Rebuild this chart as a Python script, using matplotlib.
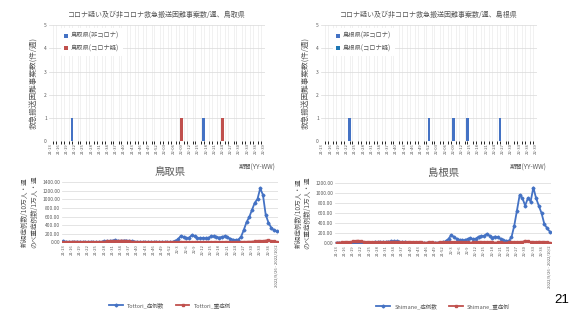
import matplotlib.pyplot as plt
import numpy as np

plt.rcParams['font.family'] = ['Noto Sans CJK JP', 'DejaVu Sans']

# weeks 2021-13 .. 2022-39
weeks = [f'21-{w:02d}' for w in range(13, 53)] + [f'22-{w:02d}' for w in range(1, 40)]
line_labels = [f'21-{w}' for w in range(13, 53)] + [f'22-{w}' for w in range(1, 39)] + ['2022/9/26 - 2022/10/2']

# bar data (weeks with cases)
tottori_non_weeks = ['21-21', '22-17']
tottori_non_counts = [1, 1]
tottori_cov_weeks = ['22-09', '22-24']
tottori_cov_counts = [1, 1]
shimane_non_weeks = ['21-23', '21-52', '22-09', '22-14', '22-26']
shimane_non_counts = [1, 1, 1, 1, 1]
shimane_cov_weeks = []
shimane_cov_counts = []

# line data
tottori_cases = [18, 12, 10, 8, 10, 12, 10, 8, 6, 8, 10, 8, 6, 8, 10, 18, 25, 30, 40, 45,
                 35, 30, 38, 40, 30, 22, 15, 10, 8, 6, 5, 5, 4, 4, 5, 6, 5, 5, 6, 8,
                 10, 30, 75, 150, 120, 90, 110, 165, 140, 100, 95, 100, 90, 95, 140, 135, 125, 110, 125, 140,
                 115, 85, 60, 50, 60, 130, 290, 470, 590, 760, 920, 1010, 1260, 1100, 640, 460, 340, 280, 255]
tottori_severe = [8, 6, 8, 10, 12, 10, 8, 6, 6, 8, 6, 6, 8, 8, 10, 12, 18, 22, 20, 25,
                  30, 38, 35, 30, 22, 15, 10, 8, 8, 6, 6, 5, 5, 5, 6, 6, 5, 5, 6, 6,
                  6, 8, 8, 10, 8, 6, 8, 8, 6, 6, 8, 6, 6, 8, 8, 6, 6, 8, 8, 6,
                  6, 8, 8, 6, 8, 8, 10, 10, 12, 15, 20, 22, 25, 30, 40, 50, 30, 20, 12]
shimane_cases = [10, 8, 10, 8, 6, 5, 4, 5, 6, 8, 10, 12, 10, 12, 15, 18, 20, 22, 25, 30,
                 35, 40, 38, 30, 22, 15, 12, 10, 8, 8, 10, 8, 6, 6, 8, 10, 8, 10, 12, 15,
                 40, 90, 165, 120, 87, 67, 55, 60, 87, 100, 80, 93, 133, 140, 147, 190, 147, 113, 133, 120,
                 87, 60, 47, 47, 120, 347, 653, 967, 900, 753, 900, 833, 1113, 900, 747, 600, 387, 300, 233]
shimane_severe = [10, 12, 15, 18, 20, 25, 35, 45, 50, 40, 30, 25, 20, 18, 15, 15, 18, 20, 22, 25,
                  28, 30, 28, 22, 18, 15, 15, 18, 20, 18, 15, 15, 12, 12, 15, 15, 12, 12, 15, 15,
                  15, 18, 20, 18, 15, 15, 18, 15, 15, 12, 15, 15, 18, 15, 15, 18, 15, 15, 12, 15,
                  15, 12, 12, 15, 15, 15, 15, 15, 25, 50, 40, 20, 15, 15, 30, 25, 20, 15, 10]

BLUE = '#4472C4'
RED = '#C0504D'
GREY = '#595959'
GRID = '#D9D9D9'

fig = plt.figure(figsize=(5.69, 3.2), dpi=100)
x = np.arange(len(weeks))


def style(ax):
    for s in ax.spines.values():
        s.set_visible(False)
    ax.tick_params(length=0, colors=GREY, pad=1.5)


def bar_chart(rect, title, name, non_w, non_c, cov_w, cov_c):
    ax = fig.add_axes(rect)
    style(ax)
    ax.set_xlim(-0.5, len(weeks) - 0.5)
    ax.set_ylim(0, 5)
    ax.set_yticks(range(6))
    ax.set_yticklabels([str(v) for v in range(6)], fontsize=3.5)
    ax.set_xticks(x, minor=True)
    ax.grid(axis='x', which='minor', color='#E7E7E7', linewidth=0.4)
    ax.grid(axis='y', color=GRID, linewidth=0.5)
    ax.set_axisbelow(True)
    ax.set_xticks(x[::3])
    ax.set_xticklabels(weeks[::3], rotation=90, fontsize=3.0)
    nx = [weeks.index(w) for w in non_w]
    cx = [weeks.index(w) for w in cov_w]
    ax.bar(nx, non_c, width=0.95, color=BLUE, label=f'{name}(非コロナ)')
    ax.bar(cx, cov_c, width=0.95, color=RED, label=f'{name}(コロナ疑)')
    ax.set_title(title, fontsize=5, color=GREY, pad=6)
    ax.set_ylabel('救急搬送困難事案数(件/週)', fontsize=5.5, color=GREY, labelpad=4)
    ax.legend(loc='upper left', bbox_to_anchor=(0.04, 1.0), fontsize=4.5, frameon=True,
              edgecolor='none', framealpha=1, handlelength=0.6, handleheight=0.6,
              labelcolor=GREY, borderpad=0.6, labelspacing=0.7, handletextpad=0.4)
    return ax


def line_chart(rect, title, name, cases, severe, ymax):
    ax = fig.add_axes(rect)
    style(ax)
    ax.set_xlim(-0.5, len(weeks) - 0.5)
    ax.set_ylim(0, ymax)
    yt = np.arange(0, ymax + 1, 200)
    ax.set_yticks(yt)
    ax.set_yticklabels([f'{v:.2f}' for v in yt], fontsize=3.5)
    ax.grid(axis='y', color=GRID, linewidth=0.5)
    ax.set_axisbelow(True)
    ax.set_xticks(x[::3])
    ax.set_xticklabels(line_labels[::3], rotation=90, fontsize=3.0)
    ax.plot(x, cases, color=BLUE, lw=1.3, marker='D', ms=1.5, label=f'{name}_症例数')
    ax.plot(x, severe, color=RED, lw=1.3, marker='s', ms=1.5, label=f'{name}_重症例')
    ax.set_title(title, fontsize=7.5, color=GREY, pad=5)
    ax.set_ylabel('新規症例数/10万人・週\nのべ重症例数/1万人・週', fontsize=4.8,
                  color=GREY, labelpad=3, linespacing=1.1)
    ax.legend(loc='upper center', bbox_to_anchor=(0.5, -0.92), ncol=2, fontsize=4,
              frameon=False, labelcolor=GREY, handlelength=2.5, columnspacing=2)
    return ax


bar_chart([0.086, 0.559, 0.380, 0.3625], 'コロナ疑い及び非コロナ救急搬送困難事案数/週、鳥取県', '鳥取県',
          tottori_non_weeks, tottori_non_counts, tottori_cov_weeks, tottori_cov_counts)
bar_chart([0.564, 0.559, 0.380, 0.3625], 'コロナ疑い及び非コロナ救急搬送困難事案数/週、島根県', '島根県',
          shimane_non_weeks, shimane_non_counts, shimane_cov_weeks, shimane_cov_counts)
fig.text(257 / 569, 1 - 168 / 320, '期間(YY-WW)', fontsize=4.5, color=GREY, ha='center', va='center')
fig.text(528 / 569, 1 - 168 / 320, '期間(YY-WW)', fontsize=4.5, color=GREY, ha='center', va='center')

line_chart([0.109, 0.243, 0.3796, 0.1875], '鳥取県', 'Tottori', tottori_cases, tottori_severe, 1400)
line_chart([0.589, 0.240, 0.3796, 0.1875], '島根県', 'Shimane', shimane_cases, shimane_severe, 1200)

fig.text(562 / 569, 1 - 300 / 320, '21', fontsize=9.5, color='black', ha='center', va='center',
         family='Liberation Sans')

fig.savefig('out.png', dpi=100, facecolor='white')
